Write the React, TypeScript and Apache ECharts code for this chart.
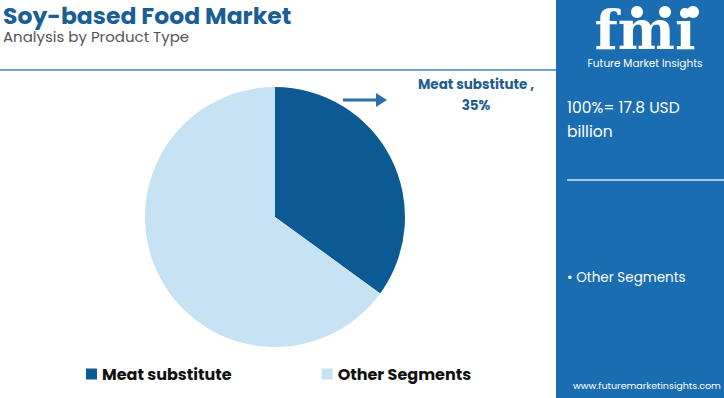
import React, { useEffect, useRef } from "react";
import * as echarts from "echarts";

const categories = ["Meat substitute", "Other Segments"];
const shares = [35, 65];
const colors = ["#0c5a94", "#c6e2f3"];
const totalText = ["100%= 17.8 USD", "billion"];

export default function App() {
  const ref = useRef<HTMLDivElement>(null);
  useEffect(() => {
    document.body.style.margin = "0";
    const chart = echarts.init(ref.current!, null, { renderer: "svg" });
    const font = "Poppins, 'Open Sans', 'Noto Sans', sans-serif";
    chart.setOption({
      animation: false,
      backgroundColor: "#ffffff",
      legend: {
        left: 86,
        top: 366,
        padding: 0,
        itemWidth: 11,
        itemHeight: 11,
        itemGap: 90,
        icon: "rect",
        data: categories,
        textStyle: { fontFamily: font, fontWeight: "bold", fontSize: 16, color: "#111" },
        selectedMode: false,
      },
      series: [
        {
          type: "pie",
          center: [275, 217],
          radius: [0, 130],
          startAngle: 90,
          clockwise: true,
          label: { show: false },
          labelLine: { show: false },
          silent: true,
          data: categories.map((c, i) => ({ name: c, value: shares[i], itemStyle: { color: colors[i] } })),
        },
      ],
      graphic: [
        { type: "text", left: 3, top: 3, style: { text: "Soy-based Food Market", font: `bold 23.5px ${font}`, lineHeight: 24, fill: "#1a5e96" } },
        { type: "text", left: 3, top: 28, style: { text: "Analysis by Product Type", font: `15px ${font}`, lineHeight: 16, fill: "#555" } },
        { type: "line", shape: { x1: 0, y1: 70, x2: 556, y2: 70 }, style: { stroke: "#6aa6cf", lineWidth: 2 } },
        { type: "rect", shape: { x: 556, y: 0, width: 168, height: 398 }, style: { fill: "#1a6db1" } },
        { type: "text", x: 645, y: 9, style: { text: "fmi", font: "bold 54px 'DejaVu Serif', serif", lineHeight: 42, fill: "#ffffff", textAlign: "center" } },
        { type: "circle", shape: { cx: 637, cy: 12, r: 6 }, style: { fill: "#ffffff" } },
        { type: "circle", shape: { cx: 665, cy: 12, r: 6 }, style: { fill: "#ffffff" } },
        { type: "circle", shape: { cx: 693, cy: 12, r: 6 }, style: { fill: "#ffffff" } },
        { type: "text", x: 645, y: 57, style: { text: "Future Market Insights", font: `10.5px ${font}`, lineHeight: 12, fill: "#ffffff", textAlign: "center" } },
        { type: "text", x: 567, y: 99, style: { text: totalText[0], font: `15.5px ${font}`, fill: "#ffffff" } },
        { type: "text", x: 567, y: 123, style: { text: totalText[1], font: `15.5px ${font}`, fill: "#ffffff" } },
        { type: "line", shape: { x1: 567, y1: 180, x2: 724, y2: 180 }, style: { stroke: "#d0e4f4", lineWidth: 1.5 } },
        { type: "text", x: 567, y: 270, style: { text: "• " + categories[1], font: `13.5px ${font}`, fill: "#ffffff" } },
        { type: "text", x: 573, y: 380, style: { text: "www.futuremarketinsights.com", font: `9.5px ${font}`, fill: "#ffffff" } },
        { type: "line", shape: { x1: 343, y1: 100, x2: 380, y2: 100 }, style: { stroke: "#2a6fad", lineWidth: 3 } },
        { type: "polygon", shape: { points: [[376, 93], [387, 100], [376, 107]] }, style: { fill: "#2a6fad" } },
        { type: "text", x: 476, y: 77, style: { text: categories[0] + " ,", font: `bold 13.5px ${font}`, fill: "#1f5d8f", textAlign: "center" } },
        { type: "text", x: 476, y: 98, style: { text: shares[0] + "%", font: `bold 13.5px ${font}`, fill: "#1f5d8f", textAlign: "center" } },
      ],
    });
    return () => chart.dispose();
  }, []);
  return <div ref={ref} style={{ position: "absolute", left: 0, top: 0, width: 724, height: 398 }} />;
}
